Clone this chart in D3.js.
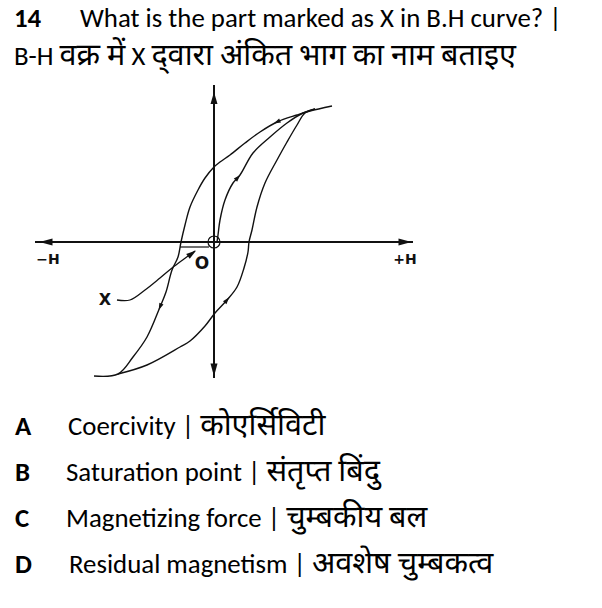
<!DOCTYPE html>
<html><head><meta charset="utf-8">
<script src="https://cdn.jsdelivr.net/npm/d3@7"></script>
<style>body{margin:0;background:#fff} svg{display:block}</style>
</head><body>
<script>
// ---------- text content ----------
const questionNumber = "14";
const questionLines = ["What is the part marked as X in B.H curve? |", "B-H वक्र में X द्\u200Cवारा अंकित भाग का नाम बताइए"];
const optionKeys = ["A", "B", "C", "D"];
const optionTexts = ["Coercivity | कोएर्सिविटी", "Saturation point | संतृप्त बिंदु", "Magnetizing force | चुम्बकीय बल", "Residual magnetism | अवशेष चुम्बकत्व"];
const axisLabels = ["−H", "+H"];
const originLabel = "O";
const markerLabel = "X";

// ---------- B-H curve data (H, B in arbitrary units) ----------
const hDomain = [-18, 20];
const bDomain = [-14, 16];
const axisExtentH = [-17.9, 19.9];
const axisExtentB = [-13.6, 15.7];

const descendingH = [11.8, 9.6, 8.3, 6.3, 4.6, 3.1, 1.6, 0.6, 0.0, -0.9, -1.6, -2.4, -2.9, -3.3, -3.6, -4.2, -4.8, -5.4, -6.7, -8.1, -9.6, -12.0];
const descendingB = [13.6, 13.1, 12.7, 12.0, 11.0, 9.9, 8.7, 8.0, 7.5, 6.4, 5.2, 3.5, 1.7, 0, -1.5, -2.8, -5.0, -6.5, -9.5, -11.5, -13.2, -13.4];

const ascendingH = [-9.6, -6.7, -3.4, -2.4, -0.9, 0.1, 1.3, 2.3, 3.0, 3.4, 3.5, 3.8, 4.3, 5.1, 6.3, 7.3, 8.3, 9.1, 10.1];
const ascendingB = [-13.2, -12.3, -10.5, -9.9, -8.4, -7.1, -5.8, -4.5, -2.6, -1.0, 0, 1.2, 3.5, 5.9, 8.2, 10.0, 11.7, 12.9, 13.3];

const initialH = [0.3, 0.4, 0.6, 1.1, 1.9, 2.6, 3.9, 5.6, 7.3, 8.9, 10.1];
const initialB = [0.0, 0.7, 2.2, 4.2, 5.9, 6.7, 8.9, 10.5, 11.9, 12.9, 13.3];

// leader line from label X to the coercivity region
const leaderH = [-9.7, -8.4, -6.9, -5.4, -4.2, -3.0, -1.9];
const leaderB = [-5.8, -5.8, -4.8, -3.6, -2.6, -1.7, -0.9];

// coercivity marker segment
const coerciveSegH = [-3.4, -0.5];
const coerciveSegB = [-0.5, -0.5];

// direction arrows on the curves
const curveArrowCurve = ["descending", "initial", "descending", "ascending"];
const curveArrowH = [6.3, 2.4, -5.4, 1.3];
const curveArrowB = [12.0, 6.4, -6.5, -5.8];

// label anchors
const xLabelPos = [-10.9, -5.7];
const oLabelPos = [-1.2, -2.1];
const hLabelPosH = [-16.6, 19.1];
const hLabelPosB = [-1.7, -1.7];

// ---------- drawing ----------
const W = 602, H = 608;
const svg = d3.select("body").append("svg").attr("width", W).attr("height", H);
svg.append("rect").attr("width", W).attr("height", H).attr("fill", "#fff");

const x = d3.scaleLinear().domain(hDomain).range([34, 414]);
const y = d3.scaleLinear().domain(bDomain).range([382, 82]);

const ink = "#111";
const fontFam = "Carlito, Lato, 'Noto Sans', sans-serif";
const devaScale = 1.14;

function richText(sel, str, size) {
  const parts = str.split(/([\u0900-\u097F\u200C\u200D]+(?:\s+[\u0900-\u097F\u200C\u200D]+)*)/).filter(s => s.length);
  parts.forEach(p => {
    const isDeva = /[\u0900-\u097F]/.test(p);
    sel.append("tspan").attr("font-size", isDeva ? size * devaScale : size).text(p);
  });
  return sel;
}

const textG = svg.append("g").attr("font-family", fontFam).attr("fill", "#000").style("white-space", "pre");
const probe = textG.append("text").attr("x", 80).attr("y", 27).attr("font-size", 22).text(questionLines[0]);
const w22 = probe.node().getComputedTextLength();
const fs = 22 * 482 / w22;
probe.attr("font-size", fs);
textG.append("text").attr("x", 14).attr("y", 27).attr("font-size", fs).attr("font-weight", "bold").text(questionNumber);
richText(textG.append("text").attr("x", 14).attr("y", 65), questionLines[1], fs);

const optY = [435, 481, 527, 573];
const optX = [68, 66, 66, 69];
optionKeys.forEach((k, i) => {
  textG.append("text").attr("x", 15).attr("y", optY[i]).attr("font-size", fs).attr("font-weight", "bold").text(k);
  richText(textG.append("text").attr("x", optX[i]).attr("y", optY[i]), optionTexts[i], fs);
});

// axes
const g = svg.append("g");
g.append("line").attr("x1", x(axisExtentH[0])).attr("x2", x(axisExtentH[1])).attr("y1", y(0)).attr("y2", y(0))
  .attr("stroke", ink).attr("stroke-width", 2);
g.append("line").attr("x1", x(0)).attr("x2", x(0)).attr("y1", y(axisExtentB[1])).attr("y2", y(axisExtentB[0]))
  .attr("stroke", ink).attr("stroke-width", 2);

function tri(cx, cy, angleDeg, len, wid) {
  const a = angleDeg * Math.PI / 180;
  const ux = Math.cos(a), uy = Math.sin(a), px = -uy, py = ux;
  const tip = [cx + ux * len / 2, cy + uy * len / 2];
  const b1 = [cx - ux * len / 2 + px * wid / 2, cy - uy * len / 2 + py * wid / 2];
  const b2 = [cx - ux * len / 2 - px * wid / 2, cy - uy * len / 2 - py * wid / 2];
  return `M${tip}L${b1}L${b2}Z`;
}
g.append("path").attr("d", tri(x(0), y(axisExtentB[1]) + 13, -90, 12, 7)).attr("fill", ink);
g.append("path").attr("d", tri(x(0), y(axisExtentB[0]) - 8, 90, 13, 7)).attr("fill", ink);
g.append("path").attr("d", tri(x(axisExtentH[0]) + 11, y(0), 180, 13, 7)).attr("fill", ink);
g.append("path").attr("d", tri(x(axisExtentH[1]) - 8, y(0), 0, 13, 7)).attr("fill", ink);

// origin circle
g.append("circle").attr("cx", x(0)).attr("cy", y(0)).attr("r", 6).attr("fill", "none").attr("stroke", ink).attr("stroke-width", 1.2);

// curves
const line = d3.line().x(d => x(d[0])).y(d => y(d[1])).curve(d3.curveCatmullRom.alpha(0.5));
const curves = {
  descending: d3.zip(descendingH, descendingB),
  ascending: d3.zip(ascendingH, ascendingB),
  initial: d3.zip(initialH, initialB)
};
const pathNodes = {};
Object.entries(curves).forEach(([k, pts]) => {
  pathNodes[k] = g.append("path").attr("d", line(pts)).attr("fill", "none")
    .attr("stroke", ink).attr("stroke-width", 1.4).attr("stroke-linejoin", "round").node();
});

// coercivity segment
g.append("line").attr("x1", x(coerciveSegH[0])).attr("x2", x(coerciveSegH[1]))
  .attr("y1", y(coerciveSegB[0])).attr("y2", y(coerciveSegB[1])).attr("stroke", ink).attr("stroke-width", 1.2);

// leader
const leaderPts = d3.zip(leaderH, leaderB);
g.append("path").attr("d", d3.line().x(d => x(d[0])).y(d => y(d[1])).curve(d3.curveCatmullRom)(leaderPts))
  .attr("fill", "none").attr("stroke", ink).attr("stroke-width", 1.3);
{
  const a = leaderPts[leaderPts.length - 2], b = leaderPts[leaderPts.length - 1];
  const ang = Math.atan2(y(b[1]) - y(a[1]), x(b[0]) - x(a[0])) * 180 / Math.PI;
  g.append("path").attr("d", tri(x(b[0]) - 3, y(b[1]) + 2.5, ang, 10, 6)).attr("fill", ink);
}

// direction arrows on curves
curveArrowCurve.forEach((c, i) => {
  const node = pathNodes[c];
  const L = node.getTotalLength();
  const tx = x(curveArrowH[i]), ty = y(curveArrowB[i]);
  let best = 0, bd = Infinity;
  for (let s = 0; s <= L; s += 0.5) {
    const p = node.getPointAtLength(s);
    const d = (p.x - tx) ** 2 + (p.y - ty) ** 2;
    if (d < bd) { bd = d; best = s; }
  }
  const p0 = node.getPointAtLength(Math.max(0, best - 2)), p1 = node.getPointAtLength(Math.min(L, best + 2));
  const ang = Math.atan2(p1.y - p0.y, p1.x - p0.x) * 180 / Math.PI;
  const pm = node.getPointAtLength(best);
  g.append("path").attr("d", tri(pm.x, pm.y, ang, 7, 4.5)).attr("fill", ink);
});

// labels
const lab = svg.append("g").attr("font-family", "'DejaVu Sans', 'Liberation Sans', sans-serif").attr("font-weight", "bold").attr("fill", ink).attr("text-anchor", "middle").attr("dominant-baseline", "central");
lab.append("text").attr("x", x(hLabelPosH[0])).attr("y", y(hLabelPosB[0])).attr("font-size", 14).text(axisLabels[0]);
lab.append("text").attr("x", x(hLabelPosH[1])).attr("y", y(hLabelPosB[1])).attr("font-size", 14).text(axisLabels[1]);
lab.append("text").attr("x", x(xLabelPos[0])).attr("y", y(xLabelPos[1])).attr("font-size", 16).text(markerLabel);
lab.append("text").attr("x", x(oLabelPos[0])).attr("y", y(oLabelPos[1])).attr("font-size", 17).text(originLabel);
</script>
</body></html>
